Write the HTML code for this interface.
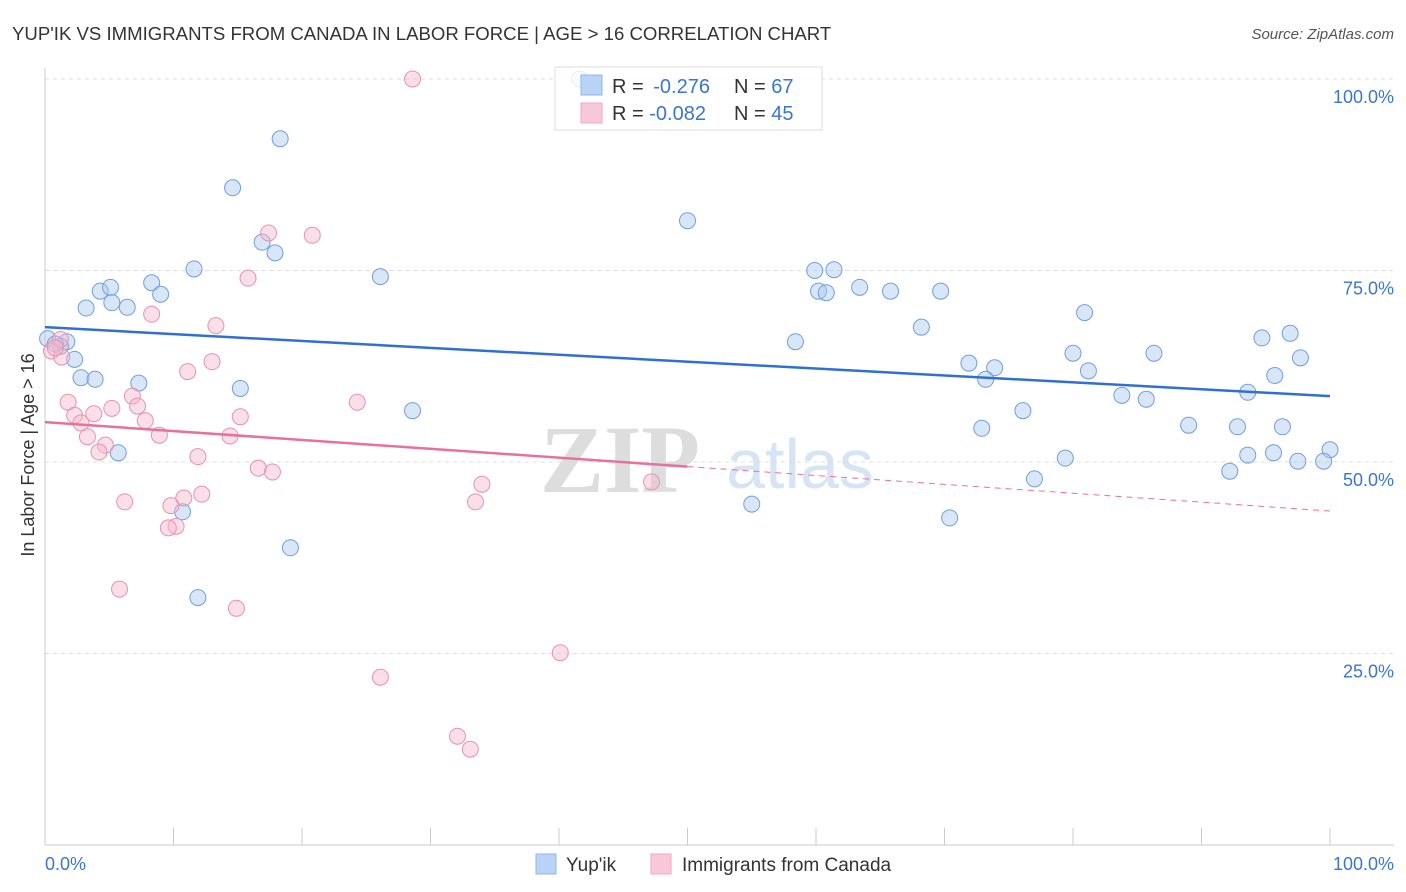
<!DOCTYPE html>
<html><head><meta charset="utf-8"><style>
body{margin:0;background:#fff;font-family:"Liberation Sans",sans-serif;}
svg{display:block}
</style></head><body>
<svg id="c" width="1406" height="892">
<text x="12" y="40" font-size="18.6" fill="#333">YUP'IK VS IMMIGRANTS FROM CANADA IN LABOR FORCE | AGE &gt; 16 CORRELATION CHART</text>
<text x="1394" y="39" font-size="15" fill="#555" font-style="italic" text-anchor="end">Source: ZipAtlas.com</text>
<text x="620" y="492" font-size="96" fill="#ddd" font-family="Liberation Serif" font-weight="bold" text-anchor="middle">ZIP</text>
<text x="800" y="488" font-size="70" fill="#d6e4f5" text-anchor="middle">atlas</text>
<text transform="translate(34,455) rotate(-90)" font-size="18" fill="#333" text-anchor="middle">In Labor Force | Age &gt; 16</text>
<g id="grid"></g><g id="pts"></g><g id="lines"></g>
<g>
<rect x="555" y="67" width="267" height="63" fill="#fff" fill-opacity="0.8" stroke="#ddd"/>
<rect x="581" y="75" width="21" height="20" fill="#b8d3f5" stroke="#8fb6ea"/>
<rect x="581" y="103" width="21" height="20" fill="#f9c8d8" stroke="#f0a8c0"/>
<text x="612" y="93" font-size="20" fill="#333">R = <tspan fill="#3a76d0">&#8201;-0.276</tspan></text>
<text x="734" y="93" font-size="20" fill="#333">N = <tspan fill="#3a76d0">67</tspan></text>
<text x="612" y="120" font-size="20" fill="#333">R = <tspan fill="#3a76d0">-0.082</tspan></text>
<text x="734" y="120" font-size="20" fill="#333">N = <tspan fill="#3a76d0">45</tspan></text>
</g>
<g>
<rect x="536" y="854" width="20" height="20" fill="#b8d3f5" stroke="#8fb6ea"/>
<text x="566" y="871" font-size="19" fill="#333">Yup'ik</text>
<rect x="651" y="854" width="20" height="20" fill="#f9c8d8" stroke="#f0a8c0"/>
<text x="682" y="871" font-size="19" fill="#333">Immigrants from Canada</text>
</g>
<text x="45" y="870" font-size="18" fill="#3a76d0">0.0%</text>
<text x="1394" y="870" font-size="18" fill="#3a76d0" text-anchor="end">100.0%</text>
</svg>
<script>
const yTicks=[100,75,50,25];
const yTickLabels=["100.0%","75.0%","50.0%","25.0%"];
const xTicks=[0,10,20,30,40,50,60,70,80,90,100];
const blueX=[41.6,18.3,14.6,50.0,16.9,17.9,11.6,26.1,59.9,61.4,8.3,60.2,60.8,63.4,65.8,69.7,3.2,4.3,5.1,9.0,5.2,6.4,68.2,80.9,94.7,96.9,0.2,1.7,58.4,1.2,2.3,80.0,86.3,97.7,71.9,73.9,73.2,81.2,2.8,3.9,7.3,15.2,95.7,93.6,83.8,85.7,28.6,76.1,72.9,89.0,92.8,96.3,5.7,79.4,93.6,95.6,100,97.5,99.5,92.2,77.0,10.7,55.0,70.4,19.1,11.9,0.8];
const blueY=[100,92.2,85.8,81.5,78.7,77.3,75.2,74.2,75.0,75.1,73.4,72.3,72.1,72.8,72.3,72.3,70.1,72.3,72.8,71.9,70.8,70.2,67.6,69.5,66.2,66.8,66.1,65.7,65.7,65.1,63.4,64.2,64.2,63.6,62.9,62.3,60.8,61.9,61.0,60.8,60.3,59.6,61.3,59.1,58.7,58.2,56.7,56.7,54.4,54.8,54.6,54.6,51.2,50.5,50.9,51.2,51.6,50.1,50.1,48.8,47.8,43.5,44.5,42.7,38.8,32.3,65.4];
const pinkX=[28.6,17.4,20.8,15.8,8.3,13.3,1.2,0.5,1.3,13.0,11.1,1.8,24.3,6.8,7.2,3.8,2.3,5.2,2.8,7.8,15.2,3.3,14.4,8.9,4.7,4.2,11.9,16.6,17.7,34.0,47.2,12.2,10.8,6.2,33.5,9.8,10.2,9.6,5.8,14.9,40.1,26.1,32.1,33.1,0.8];
const pinkY=[100,79.9,79.6,74.0,69.3,67.8,66.0,64.5,63.7,63.1,61.8,57.8,57.8,58.6,57.3,56.3,56.1,57.0,55.1,55.4,55.9,53.3,53.4,53.5,52.2,51.3,50.7,49.2,48.7,47.1,47.4,45.8,45.3,44.8,44.8,44.3,41.6,41.4,33.4,30.9,25.1,21.9,14.2,12.5,64.9];
const X=v=>45+v/100*1285, Y=v=>845-v/100*766;
const NS="http://www.w3.org/2000/svg";
function mk(t,a,p){const e=document.createElementNS(NS,t);for(const k in a)e.setAttribute(k,a[k]);p.appendChild(e);return e;}
const g=document.getElementById('grid');
yTicks.forEach((t,i)=>{
 const l=mk('line',{x1:45,x2:1394,y1:Y(t),y2:Y(t),stroke:'#ddd','stroke-dasharray':'4,4'},g);
 
 
 const tx=mk('text',{x:1394,y:Y(t)+24,'font-size':18,fill:'#3a76d0','text-anchor':'end'},g);
 tx.textContent=yTickLabels[i];
 
 
});
const ax=mk('line',{x1:45,x2:1394,y1:845,y2:845,stroke:'#ccc'},g);


const ay=mk('line',{x1:45,x2:45,y1:68,y2:845,stroke:'#ccc'},g);


xTicks.forEach(t=>{
 const l=mk('line',{x1:X(t),x2:X(t),y1:828,y2:845,stroke:'#ccc'},g);
 
 
});
const p=document.getElementById('pts');
function pts(xs,ys,fill,stroke,name){xs.forEach((x,i)=>{
 const c=mk('circle',{cx:X(x),cy:Y(ys[i]),r:8,fill:fill,'fill-opacity':0.45,stroke:stroke,'stroke-width':1},p);
 
 
});}
pts(blueX,blueY,'#a9c8f0','#6f9fdf','yupik-point');
pts(pinkX,pinkY,'#f6b9cd','#e891ae','canada-point');
const L=document.getElementById('lines');
const b=mk('line',{x1:X(0),y1:Y(67.6),x2:X(100),y2:Y(58.6),stroke:'#2f6fd6','stroke-width':2.5},L);


const k=mk('line',{x1:X(0),y1:Y(55.2),x2:X(50),y2:Y(49.4),stroke:'#e8709a','stroke-width':2.5},L);


const kd=mk('line',{x1:X(50),y1:Y(49.4),x2:X(100),y2:Y(43.6),stroke:'#e8709a','stroke-width':1,'stroke-dasharray':'6,5'},L);


</script>
</body></html>
